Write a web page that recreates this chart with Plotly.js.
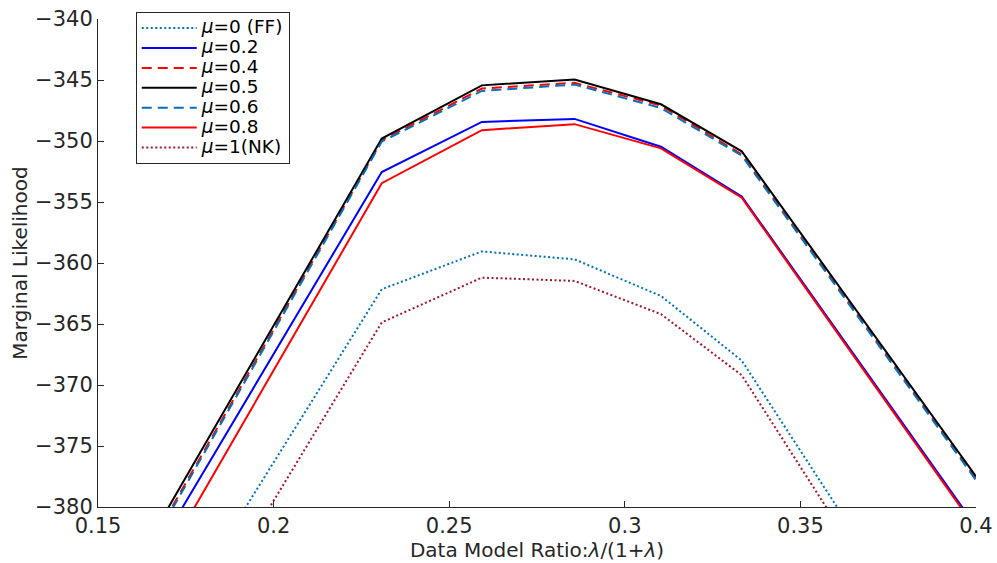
<!DOCTYPE html>
<html>
<head>
<meta charset="utf-8">
<script src="https://cdn.plot.ly/plotly-3.0.1.min.js"></script>
<style>html,body{margin:0;padding:0;background:#fff;}#chart{width:997px;height:563px;}</style>
</head>
<body>
<div id="chart"></div>
<script>
// x = lambda/(1+lambda)
const ratio = [0.1667, 0.2308, 0.2593, 0.2857, 0.3103, 0.3333, 0.4];
const seriesNames = ['<i>μ</i>=0 (FF)', '<i>μ</i>=0.2', '<i>μ</i>=0.4', '<i>μ</i>=0.5', '<i>μ</i>=0.6', '<i>μ</i>=0.8', '<i>μ</i>=1(NK)'];
const mu0   = [-391.7, -362.15, -359.05, -359.7, -362.7, -368.0, -397.5];
const mu02  = [-383.6, -352.54, -348.44, -348.19, -350.47, -354.55, -381.6];
const mu04  = [-382.2, -349.95, -345.7, -345.23, -347.1, -351.1, -377.7];
const mu05  = [-381.7, -349.8, -345.44, -344.96, -346.99, -350.85, -377.5];
const mu06  = [-382.4, -350.05, -345.9, -345.37, -347.3, -351.2, -377.8];
const mu08  = [-385.4, -353.46, -349.11, -348.62, -350.6, -354.65, -381.8];
const mu1   = [-395.3, -364.87, -361.2, -361.47, -364.19, -369.2, -399.2];

const values = [mu0, mu02, mu04, mu05, mu06, mu08, mu1];
const colors = ['#0072BD', '#0000FF', '#FF0000', '#000000', '#0072BD', '#FF0000', '#A2142F'];
const dashes = ['2px,2.5px', 'solid', '10px,6px', 'solid', '10px,6px', 'solid', '2px,2.5px'];

const traces = values.map((v, i) => ({
  x: ratio, y: v, type: 'scatter', mode: 'lines',
  name: '<span style="font-size:18.5px">' + seriesNames[i] + '</span>',
  line: {color: colors[i], width: 2, dash: dashes[i]}
}));

const FONT = 'DejaVu Sans, Liberation Sans, Arial, sans-serif';
const axisCommon = {
  showgrid: false, zeroline: false, showline: true, linecolor: '#262626', linewidth: 1,
  ticks: 'inside', ticklen: 6, tickcolor: '#262626', mirror: false,
  tickfont: {family: FONT, size: 21, color: '#262626'}
};

const layout = {
  width: 997, height: 563,
  margin: {l: 98, r: 21, t: 16, b: 56},
  paper_bgcolor: '#fff', plot_bgcolor: '#fff',
  showlegend: true,
  legend: {
    x: 0.043, y: 1.014, xanchor: 'left', yanchor: 'top',
    bgcolor: '#fff', bordercolor: '#262626', borderwidth: 1,
    font: {family: FONT, size: 13, color: '#000'},
    itemwidth: 55,
    tracegroupgap: 0
  },
  xaxis: Object.assign({}, axisCommon, {
    range: [0.15, 0.4], dtick: 0.05, tick0: 0.15,
    title: {text: 'Data Model Ratio:<i>λ</i>/(1+<i>λ</i>)', standoff: 2,
            font: {family: FONT, size: 20, color: '#262626'}}
  }),
  yaxis: Object.assign({}, axisCommon, {
    range: [-380, -340], dtick: 5, tick0: -380,
    title: {text: 'Marginal Likelihood', standoff: 2,
            font: {family: FONT, size: 20, color: '#262626'}}
  })
};

Plotly.newPlot('chart', traces, layout, {displayModeBar: false, staticPlot: true});
</script>
</body>
</html>
